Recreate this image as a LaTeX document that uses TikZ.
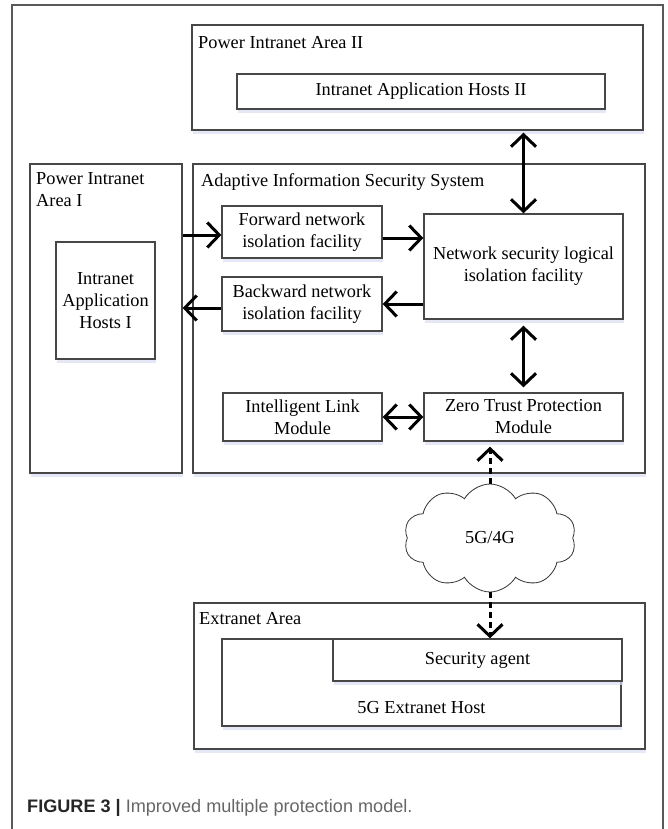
\documentclass[tikz,border=0pt]{standalone}
\usepackage{fontspec}
\setmainfont{Liberation Serif}
\newfontfamily\capfont{Liberation Sans}
\usepackage{xcolor}
\usetikzlibrary{positioning}
\usetikzlibrary{arrows.meta,shapes.symbols,shadows}

\begin{document}
\begin{tikzpicture}[x=1pt,y=-1pt,on grid,
   >={Straight Barb[length=12pt,width=25pt]},
   every node/.style={font=\fontsize{18.3}{22}\selectfont},
   box/.style={draw=black!72,line width=1.3pt,fill=white,inner sep=0pt,align=center,
      drop shadow={shadow xshift=1pt,shadow yshift=-4pt,opacity=0.7,fill=cyan!35!blue!14}},
   tag/.style={anchor=west,inner sep=0pt},
   flow/.style={line width=3pt},
   wireless/.style={line width=3pt,dash pattern=on 6pt off 4pt}]
   \useasboundingbox (0,0) rectangle (667,829);
   \draw[black!65,line width=1.5pt] (12,829) -- (12,5) -- (663,5) -- (663,829);
   \node[box,minimum width=451pt,minimum height=105pt] (piaII) at (417.5,77.5) {};
   \node[box,minimum width=368pt,minimum height=35pt] (iahII) at (421,91.5) {Intranet Application Hosts II};
   \node[box,minimum width=152pt,minimum height=309pt] (piaI) at (106,318.5) {};
   \node[box,minimum width=99pt,minimum height=117pt] (iahI) at (105.5,300.5) {Intranet\\Application\\Hosts I};
   \node[box,minimum width=452pt,minimum height=309pt] (aiss) at (419,318.5) {};
   \node[box,minimum width=160pt,minimum height=52pt] (fwd) at (302,232) {Forward network\\isolation facility};
   \node[box,minimum width=160pt,minimum height=54pt] (bwd) [below=72pt of fwd] {Backward network\\isolation facility};
   \node[box,minimum width=199pt,minimum height=105pt] (nsli) at (523.5,266.5) {Network security logical\\isolation facility};
   \node[box,minimum width=159pt,minimum height=48pt] (ilm) at (302.5,417) {Intelligent Link\\Module};
   \node[box,minimum width=199pt,minimum height=48pt] (ztp) [right=221pt of ilm] {Zero Trust Protection\\Module};
   \node[cloud,draw=black!80,line width=0.8pt,cloud puffs=10,cloud puff arc=120,
      minimum width=172pt,minimum height=108pt,inner sep=0pt] (net) at (490,538) {5G/4G};
   \node[box,minimum width=451pt,minimum height=146pt] (extra) at (419.5,676) {};
   \node[box,minimum width=399pt,minimum height=87pt] (host) at (421.5,682.5) {};
   \node[box,minimum width=289pt,minimum height=42pt] (agent) at (477.5,660) {Security agent};
   \node (hostname) at (421.5,708) {5G Extranet Host};
   \node[tag] (piaIItitle) at (198,43) {Power Intranet Area II};
   \node[tag] (aisstitle) at (201,182) {Adaptive Information Security System};
   \node[tag,anchor=north west,align=left] (piaItitle) at (36,172) {Power Intranet\\Area I};
   \node[tag] (extratitle) at (199,619) {Extranet Area};
   \draw[flow,->] (piaI.east |- fwd.west) ++(0,3) -- ([yshift=-3pt]fwd.west);
   \draw[flow,->] ([yshift=-6pt]fwd.east) -- ([yshift=-6pt]fwd.east -| nsli.west);
   \draw[flow,->] (nsli.west |- bwd.east) -- (bwd.east);
   \draw[flow,->] ([yshift=-4pt]bwd.west) -- ([yshift=-4pt]bwd.west -| piaI.east);
   \draw[flow,<->,shorten <=2pt] (piaII.south -| nsli.north) -- (nsli.north);
   \draw[flow,<->,shorten <=6pt,shorten >=5pt] (nsli.south) -- (ztp.north);
   \draw[flow,<->] (ilm.east) -- (ztp.west);
   \draw[wireless,->,shorten >=5pt] (net.north) -- (net.north |- ztp.south);
   \draw[wireless,->] (net.south) -- (net.south |- agent.north);
   \node[anchor=west,inner sep=0pt,font=\capfont\fontsize{18.1}{22}\selectfont] (caption) at (27,808)
      {\textcolor{black!85}{\bfseries FIGURE 3 |} \textcolor{black!60}{Improved multiple protection model.}};
\end{tikzpicture}
\end{document}
